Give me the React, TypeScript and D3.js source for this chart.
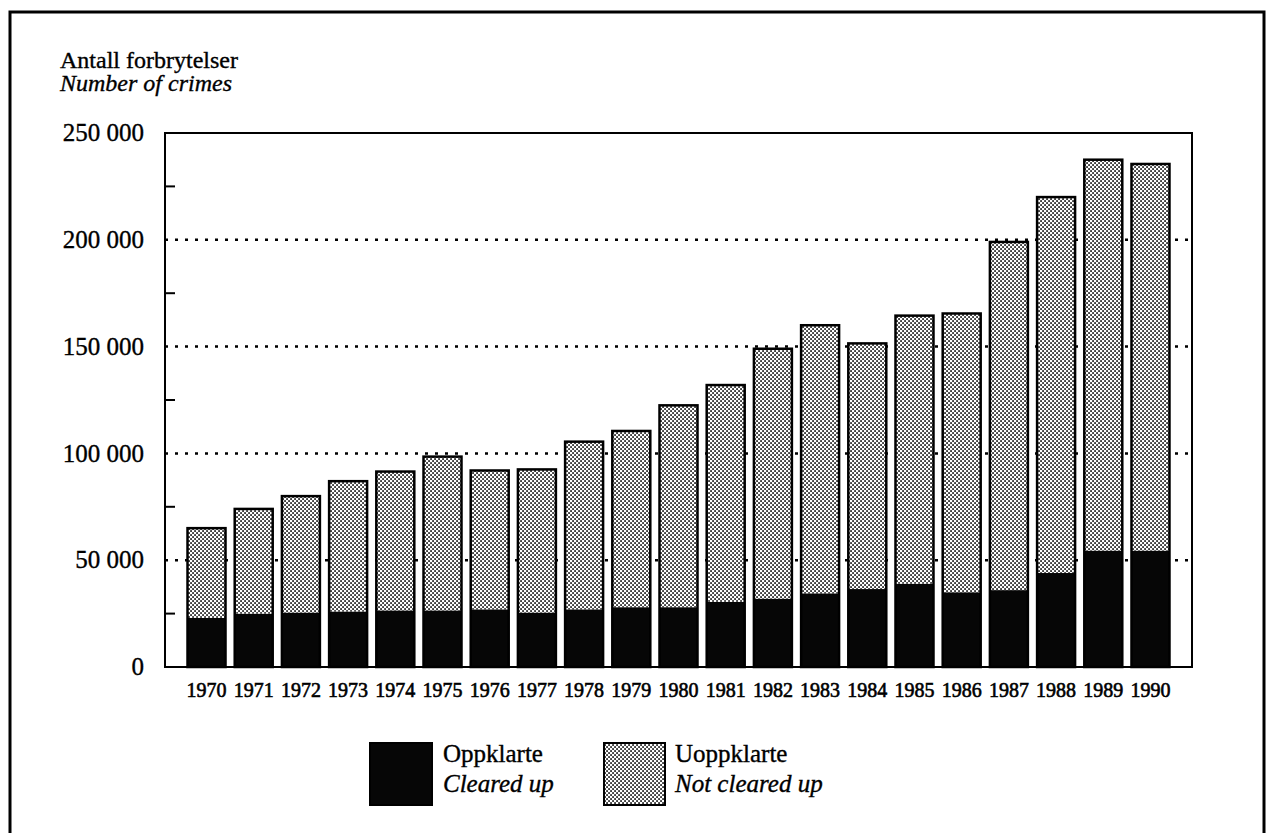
import React, { useMemo } from "react";
import * as d3 from "d3";

// Anmeldte forbrytelser 1970-1990, oppklarte / uoppklarte
const YEARS = [
  "1970", "1971", "1972", "1973", "1974", "1975", "1976", "1977", "1978", "1979", "1980",
  "1981", "1982", "1983", "1984", "1985", "1986", "1987", "1988", "1989", "1990",
];
const CLEARED = [
  23000, 25000, 25500, 26000, 26500, 26500, 27000, 25500, 27000, 28000, 28000,
  30500, 32000, 34500, 36500, 39000, 35000, 36000, 44000, 54500, 54500,
];
const NOT_CLEARED = [
  42000, 49000, 54500, 61000, 65000, 72000, 65000, 67000, 78500, 82500, 94500,
  101500, 117000, 125500, 115000, 125500, 130500, 163000, 176000, 183000, 181000,
];
const Y_TICKS = [0, 50000, 100000, 150000, 200000, 250000];
const Y_MINOR = [25000, 75000, 125000, 175000, 225000];

const W = 1267;
const H = 833;
const FONT = "'Liberation Serif', 'Times New Roman', serif";

const fmt = d3
  .formatLocale({ decimal: ",", thousands: " ", grouping: [3], currency: ["", ""] })
  .format(",");

// scanned print looks a bit heavier than the clean font
const ink = { fill: "#000", stroke: "#000", strokeWidth: 0.35 };

export default function App() {
  const chart = useMemo(() => {
    const margin = { top: 133, right: 75, bottom: 166, left: 165 };
    const x0 = margin.left;
    const x1 = W - margin.right;
    const y0 = H - margin.bottom;
    const y1 = margin.top;

    const x = d3.scaleBand<string>().domain(YEARS).range([x0, x1]).paddingInner(0.195).paddingOuter(0.477);
    const y = d3.scaleLinear().domain([0, 250000]).range([y0, y1]);

    const rows = YEARS.map((yr, i) => ({ year: yr, cleared: CLEARED[i], notCleared: NOT_CLEARED[i] }));
    const stacked = d3.stack<any>().keys(["cleared", "notCleared"])(rows);

    return { x, y, stacked, rows, x0, x1, y0, y1 };
  }, []);

  const { x, y, stacked, rows, x0, x1, y0, y1 } = chart;

  return (
    <svg width={W} height={H} style={{ position: "absolute", left: 0, top: 0, display: "block" }} fontFamily={FONT}>
      <defs>
        <pattern id="stipple" width={4} height={4} patternUnits="userSpaceOnUse">
          <rect width={4} height={4} fill="#fff" />
          <rect x={0.2} y={0.2} width={1.7} height={1.7} fill="#111" />
          <rect x={2.2} y={2.2} width={1.7} height={1.7} fill="#111" />
        </pattern>
      </defs>
      <rect width={W} height={H} fill="#fff" />

      {/* outer frame */}
      <rect x={10} y={12} width={1254} height={H + 20} fill="none" stroke="#000" strokeWidth={3} />

      {/* titles */}
      <text x={60} y={68} fontSize={24} {...ink}>Antall forbrytelser</text>
      <text x={60} y={91} fontSize={24} fontStyle="italic" {...ink}>Number of crimes</text>

      {/* dotted grid */}
      {Y_TICKS.filter((t) => t > 0 && t < 250000).map((t) => (
        <line key={t} x1={x0} x2={x1} y1={y(t)} y2={y(t)} stroke="#000" strokeWidth={2.5} strokeDasharray="3 7" />
      ))}

      {/* minor ticks */}
      {Y_MINOR.map((t) => (
        <line key={t} x1={x0} x2={x0 + 10} y1={y(t)} y2={y(t)} stroke="#000" strokeWidth={2} />
      ))}

      {/* y labels */}
      {Y_TICKS.map((t) => (
        <text key={t} x={144} y={y(t)} dy="0.33em" fontSize={25} textAnchor="end" {...ink}>
          {fmt(t)}
        </text>
      ))}

      {/* bars */}
      {stacked.map((s) => (
        <g key={s.key} fill={s.key === "cleared" ? "#060606" : "url(#stipple)"}>
          {s.map((d: any) => (
            <rect key={d.data.year} x={x(d.data.year)} y={y(d[1])} width={x.bandwidth()} height={y(d[0]) - y(d[1])} />
          ))}
        </g>
      ))}
      {rows.map((r) => (
        <rect
          key={r.year}
          x={x(r.year)}
          y={y(r.cleared + r.notCleared)}
          width={x.bandwidth()}
          height={y(0) - y(r.cleared + r.notCleared)}
          fill="none"
          stroke="#000"
          strokeWidth={2.5}
        />
      ))}

      {/* plot box */}
      <rect x={x0} y={y1} width={x1 - x0} height={y0 - y1} fill="none" stroke="#000" strokeWidth={2} />

      {/* x labels */}
      {YEARS.map((yr) => (
        <text
          key={yr}
          x={(x(yr) as number) + x.bandwidth() / 2}
          y={697}
          fontSize={20}
          textAnchor="middle"
          fill="#000"
          stroke="#000"
          strokeWidth={0.6}
        >
          {yr}
        </text>
      ))}

      {/* legend */}
      <rect x={370} y={743} width={62} height={62} fill="#060606" stroke="#000" strokeWidth={2} />
      <text x={443} y={762} fontSize={25} {...ink}>Oppklarte</text>
      <text x={443} y={792} fontSize={25} fontStyle="italic" {...ink}>Cleared up</text>
      <rect x={604} y={743} width={61} height={62} fill="url(#stipple)" stroke="#000" strokeWidth={2} />
      <text x={675} y={762} fontSize={25} {...ink}>Uoppklarte</text>
      <text x={675} y={792} fontSize={25} fontStyle="italic" {...ink}>Not cleared up</text>
    </svg>
  );
}
